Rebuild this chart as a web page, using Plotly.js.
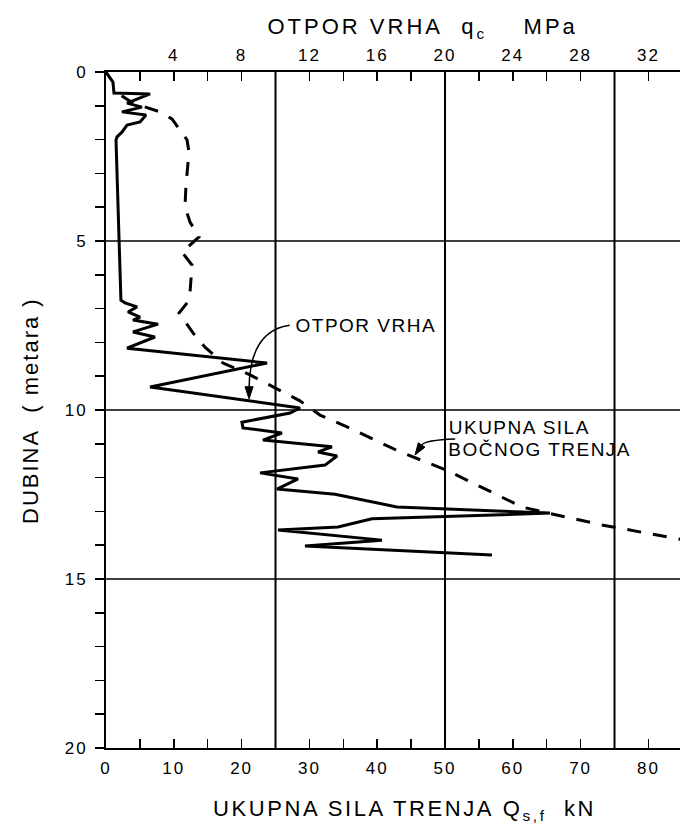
<!DOCTYPE html>
<html>
<head>
<meta charset="utf-8">
<script src="https://cdn.plot.ly/plotly-3.0.1.min.js"></script>
<style>
  html, body { margin: 0; padding: 0; background: #fff; }
  #chart { width: 680px; height: 829px; }
  g.xtick text, g.x2tick text, g.ytick text { letter-spacing: 2px; }
  g.annotation[data-index="0"] text { letter-spacing: 3px; }
  g.annotation[data-index="1"] text { letter-spacing: 2.6px; }
  g.annotation[data-index="2"] text { letter-spacing: 2px; }
  g.annotation[data-index="3"] text, g.annotation[data-index="4"] text, g.annotation[data-index="5"] text { letter-spacing: 1.5px; }
</style>
</head>
<body>
<div id="chart"></div>
<script>
// Cone resistance qc (MPa, top axis) vs depth (m)
const qcDepth = [0,0.30,0.62,0.65,0.92,1.04,1.18,1.27,1.48,1.57,1.78,1.92,2.01,6.75,6.83,6.95,7.10,7.25,7.34,7.46,7.69,7.84,8.17,8.61,9.32,9.94,10.09,10.36,10.53,10.68,10.89,11.09,11.24,11.36,11.63,11.86,12.04,12.34,12.49,12.87,13.05,13.22,13.46,13.55,13.85,14.02,14.29];
const qcMPa = [0,0.41,0.47,2.60,1.24,2.12,0.94,2.36,2.01,1.24,0.94,0.65,0.59,0.88,1.12,1.83,1.30,2.01,1.59,3.07,1.59,2.89,1.24,9.50,2.60,11.45,10.86,8.02,8.08,10.38,9.26,13.33,12.51,13.63,12.92,9.09,11.33,10.09,13.51,17.17,26.19,15.69,13.69,10.15,16.28,11.74,22.77];

// Total side friction Qs,f (kN, bottom axis) vs depth (m)
const qsDepth = [0.70,0.92,1.18,1.39,1.72,2.01,2.37,3.34,3.99,4.44,4.88,5.33,5.71,6.54,6.80,7.13,7.72,8.14,8.61,8.96,9.73,10.15,10.50,11.21,11.80,12.51,12.87,13.05,13.40,13.70,13.88];
const qsKN = [2.30,3.98,7.96,9.73,10.91,11.95,12.24,11.80,11.65,12.39,13.72,11.21,12.68,12.39,12.09,10.77,12.83,14.60,17.26,21.24,28.61,31.56,35.55,43.07,50.44,57.82,61.36,65.19,73.16,81.27,86.14];

// Axis ticks
const kNTicks = [0,10,20,30,40,50,60,70,80];
const kNMinor = [5,15,25,35,45,55,65,75];
const mpaTicks = [4,8,12,16,20,24,28,32];
const mpaMinor = [0,2,6,10,14,18,22,26,30];
const depthTicks = [0,5,10,15,20];
const depthMinor = [1,2,3,4,6,7,8,9,11,12,13,14,16,17,18,19];
const kNGrid = [25,50,75];
const depthGrid = [5,10,15];

const kNMax = 84.66;
const mpaPerKN = 0.4;

const FONT = 'Liberation Sans, Arial, Helvetica, sans-serif';

const traces = [
  {
    x: qcMPa, y: qcDepth, xaxis: 'x2', yaxis: 'y', mode: 'lines',
    line: {color: '#000', width: 3}, hoverinfo: 'skip', showlegend: false
  },
  {
    x: qsKN, y: qsDepth, xaxis: 'x', yaxis: 'y', mode: 'lines',
    line: {color: '#000', width: 3, dash: '14px,12px'}, hoverinfo: 'skip', showlegend: false
  }
];

const shapes = [];
kNGrid.forEach(v => shapes.push({type: 'line', xref: 'x', yref: 'paper', x0: v, x1: v, y0: 0, y1: 1, line: {color: '#000', width: 2}, layer: 'below'}));
depthGrid.forEach(v => shapes.push({type: 'line', xref: 'paper', yref: 'y', x0: 0, x1: 1, y0: v, y1: v, line: {color: '#000', width: 1.3}, layer: 'below'}));
// curved leader lines with arrowheads
shapes.push({type: 'path', xref: 'x', yref: 'y', path: 'M 27.1 7.49 Q 21.2 7.65 21.1 9.36', line: {color: '#000', width: 1.5}});
shapes.push({type: 'path', xref: 'x', yref: 'y', path: 'M 21.1 9.67 L 20.5 9.31 L 21.7 9.31 Z', fillcolor: '#000', line: {color: '#000', width: 1}});
shapes.push({type: 'path', xref: 'x', yref: 'y', path: 'M 51.5 10.86 Q 47.05 10.89 46.55 11.04', line: {color: '#000', width: 1.5}});
shapes.push({type: 'path', xref: 'x', yref: 'y', path: 'M 45.58 11.33 L 47.05 11.10 L 46.06 10.97 Z', fillcolor: '#000', line: {color: '#000', width: 1}});

const W = 574, H = 676, L = 106, T = 72;
const px = v => (v - L) / W;
const py = v => (T + H - v) / H;

const annotations = [
  {xref: 'paper', yref: 'paper', x: px(423), y: py(28), xanchor: 'center', yanchor: 'middle', showarrow: false,
   text: 'OTPOR VRHA\u00A0\u00A0q<sub>c</sub>\u00A0\u00A0\u00A0\u00A0MPa', font: {family: FONT, size: 22, color: '#000'}},
  {xref: 'paper', yref: 'paper', x: px(404), y: py(810), xanchor: 'center', yanchor: 'middle', showarrow: false,
   text: 'UKUPNA SILA TRENJA\u00A0Q<sub>s,f</sub>\u00A0\u00A0kN', font: {family: FONT, size: 22, color: '#000'}},
  {xref: 'paper', yref: 'paper', x: px(30), y: py(411), xanchor: 'center', yanchor: 'middle', showarrow: false, textangle: -90,
   text: 'DUBINA\u00A0\u00A0(\u00A0metara\u00A0)', font: {family: FONT, size: 22, color: '#000'}},
  {xref: 'paper', yref: 'y', x: px(366), y: 7.49, xanchor: 'center', yanchor: 'middle', showarrow: false,
   text: 'OTPOR VRHA', font: {family: FONT, size: 19, color: '#000'}},
  {xref: 'paper', yref: 'y', x: px(519), y: 10.53, xanchor: 'center', yanchor: 'middle', showarrow: false,
   text: 'UKUPNA SILA', font: {family: FONT, size: 19, color: '#000'}},
  {xref: 'paper', yref: 'y', x: px(540), y: 11.18, xanchor: 'center', yanchor: 'middle', showarrow: false,
   text: 'BOČNOG TRENJA', font: {family: FONT, size: 19, color: '#000'}}
];

const tickFont = {family: FONT, size: 17, color: '#000'};
const minorIn = {ticks: 'inside', ticklen: 9, tickwidth: 1.5, tickcolor: '#000', showgrid: false};

const layout = {
  width: 680, height: 829,
  margin: {l: L, r: 0, t: T, b: 829 - T - H, pad: 0},
  paper_bgcolor: '#fff', plot_bgcolor: '#fff',
  showlegend: false,
  xaxis: {
    range: [0, kNMax], side: 'bottom', tickmode: 'array', tickvals: kNTicks,
    ticks: 'inside', ticklen: 9, tickwidth: 1.5, tickcolor: '#000',
    minor: Object.assign({tickmode: 'array', tickvals: kNMinor}, minorIn),
    showline: true, linewidth: 2, linecolor: '#000', showgrid: false, zeroline: false,
    tickfont: tickFont, ticklabelstandoff: 4
  },
  xaxis2: {
    range: [0, kNMax * mpaPerKN], overlaying: 'x', side: 'top', anchor: 'y', tickmode: 'array', tickvals: mpaTicks,
    ticks: 'inside', ticklen: 9, tickwidth: 1.5, tickcolor: '#000',
    minor: Object.assign({tickmode: 'array', tickvals: mpaMinor}, minorIn),
    showline: true, linewidth: 2, linecolor: '#000', showgrid: false, zeroline: false,
    tickfont: tickFont, ticklabelstandoff: 2
  },
  yaxis: {
    range: [20, 0], tickmode: 'array', tickvals: depthTicks,
    ticks: 'outside', ticklen: 9, tickwidth: 1.5, tickcolor: '#000',
    minor: {tickmode: 'array', tickvals: depthMinor, ticks: 'outside', ticklen: 9, tickwidth: 1.5, tickcolor: '#000', showgrid: false},
    showline: true, linewidth: 2, linecolor: '#000', showgrid: false, zeroline: false,
    tickfont: tickFont, ticklabelstandoff: 4
  },
  shapes: shapes,
  annotations: annotations
};

Plotly.newPlot('chart', traces, layout, {staticPlot: true, displayModeBar: false});
</script>
</body>
</html>
